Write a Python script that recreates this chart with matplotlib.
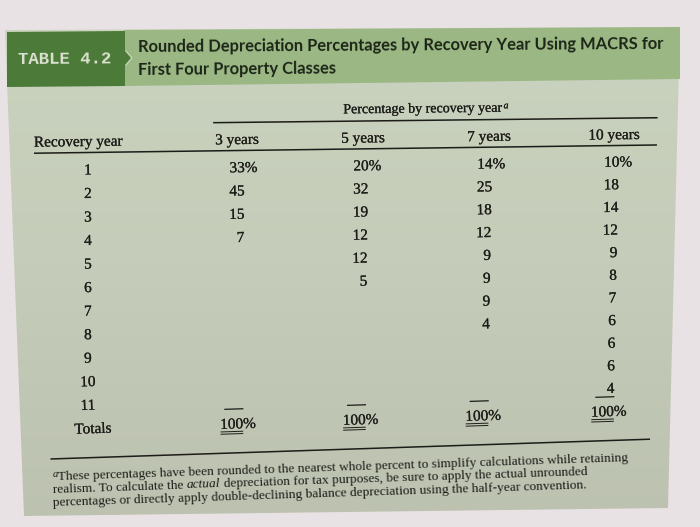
import math
import numpy as np
import matplotlib
matplotlib.use("Agg")
import matplotlib.pyplot as plt
import matplotlib.patheffects as pe
from matplotlib.patches import Polygon
from matplotlib.colors import LinearSegmentedColormap

# --- table content ---
table_no = "TABLE 4.2"
title_lines = ["Rounded Depreciation Percentages by Recovery Year Using MACRS for",
               "First Four Property Classes"]
group_header = "Percentage by recovery year"
row_header = "Recovery year"
class_labels = ["3 years", "5 years", "7 years", "10 years"]
recovery_years = [1, 2, 3, 4, 5, 6, 7, 8, 9, 10, 11]
pct_3yr = [33, 45, 15, 7]
pct_5yr = [20, 32, 19, 12, 12, 5]
pct_7yr = [14, 25, 18, 12, 9, 9, 9, 4]
pct_10yr = [10, 18, 14, 12, 9, 8, 7, 6, 6, 6, 4]
totals = [100, 100, 100, 100]
footnote = [
    [("a", "sup"), ("These percentages have been rounded to the nearest whole percent "
                    "to simplify calculations while retaining", "normal")],
    [("realism. To calculate the", "normal"), (" ", "space"), ("actual", "italic"), (" ", "space"),
     ("depreciation for tax purposes, be sure to apply the actual unrounded", "normal")],
    [("percentages or directly apply double-declining balance depreciation "
      "using the half-year convention.", "normal")],
]

ink = "#1c1d18"
serif = "Liberation Serif"

fig = plt.figure(figsize=(7, 5.27), dpi=100)
fig.patch.set_facecolor("#e9e2e4")
ax = fig.add_axes([0, 0, 1, 1])
ax.axis("off")
renderer = fig.canvas.get_renderer()


# the photo is slightly skewed: rows tilt up to the right, more towards the bottom
def slope(v):
    return min(0.013 + (v - 150) * 0.0000733, 0.033)


def squeeze(v):
    return 1 - 0.00004 * (v - 150)


def to_px(u, v):
    x = 90 + (u - 90) * squeeze(v)
    return x, v - slope(v) * (x - 50)


def put(u, v, s, ha="center", **kw):
    x, y = to_px(u, v)
    t = ax.text(x, y, s, ha=ha, va="baseline", rotation_mode="anchor", **kw)
    w = t.get_window_extent(renderer).width
    t.set_rotation(math.degrees(math.atan(slope(v))))
    return t, w


def text_width(s, **kw):
    t = ax.text(0, 0, s, **kw)
    w = t.get_window_extent(renderer).width
    t.remove()
    return w


def rule(u0, u1, v, lw=1.1):
    x0, y0 = to_px(u0, v)
    x1, y1 = to_px(u1, v)
    ax.plot([x0, x1], [y0, y1], color=ink, lw=lw, solid_capstyle="butt", zorder=3)


# --- page background ---
body = Polygon([(5, 30), (680, 27), (668, 508), (24, 516)], closed=True,
               facecolor="none", edgecolor="none")
ax.add_patch(body)
grad = np.linspace(0, 1, 200).reshape(-1, 1)
cmap = LinearSegmentedColormap.from_list("page", ["#cad4bf", "#c5ccb9", "#bcc1b0"])
img = ax.imshow(grad, extent=(0, 700, 527, 0), cmap=cmap, aspect="auto", zorder=0)
img.set_clip_path(body)

ax.add_patch(Polygon([(124, 30), (680, 27), (680, 79), (124, 86)], closed=True,
                     facecolor="#9bb884", edgecolor="none", zorder=1))
ax.add_patch(Polygon([(7, 32), (125, 31), (125, 51), (131, 58), (125, 65), (125, 86), (7, 87)],
                     closed=True, facecolor="#4c7a38", edgecolor="none", zorder=2))
ax.plot([126, 132, 126], [51, 58, 65], color="#c8d6b8", lw=0.8, zorder=2)

ax.set_xlim(0, 700)
ax.set_ylim(527, 0)

# --- heading ---
put(65, 64, table_no, family="Liberation Mono", weight="bold", fontsize=12.5,
    color="#dde2d2", zorder=4)
tsize = 12 * 524 / text_width(title_lines[0], family="Lato", weight="bold", fontsize=12)
put(138, 52.5, title_lines[0], ha="left", family="Lato", weight="bold", fontsize=tsize,
    color="#1d2618", zorder=4)
put(138, 75.5, title_lines[1], ha="left", family="Lato", weight="bold", fontsize=tsize,
    color="#1d2618", zorder=4)

# --- column heads ---
body_fs = 11
txt = dict(family=serif, color=ink, path_effects=[pe.withStroke(linewidth=0.15, foreground=ink)])
gsize = 11 * 159 / text_width(group_header, family=serif, fontsize=11)
_, gw = put(343, 116.5, group_header, ha="left", fontsize=gsize, **txt)
put(343 + gw + 1, 113, "a", ha="left", style="italic", fontsize=gsize * 0.7, **txt)
rule(213, 657, 124.5)

head_v = 146.5
put(34, head_v, row_header, ha="left", fontsize=body_fs, **txt)
col_centers = [237, 363, 489, 614]
col_rights = [245, 369, 493, 620]
for c, lab in zip(col_centers, class_labels):
    put(c, head_v, lab, fontsize=body_fs, **txt)
rule(34, 657, 153)

# --- body rows ---
row0, step = 175, 23.6
for i, yr in enumerate(recovery_years):
    put(88, row0 + step * i, str(yr), fontsize=body_fs, **txt)
tot_v = row0 + step * len(recovery_years)
put(93, tot_v, "Totals", fontsize=body_fs, **txt)

dash_w = text_width("00", family=serif, fontsize=body_fs) + 4
for r, vals, tot in zip(col_rights, [pct_3yr, pct_5yr, pct_7yr, pct_10yr], totals):
    for i, val in enumerate(vals):
        v = row0 + step * i
        put(r, v, str(val), ha="right", fontsize=body_fs, **txt)
        if i == 0:
            put(r, v, "%", ha="left", fontsize=body_fs, **txt)
    rule(r - dash_w, r, row0 + step * 10 + 4, lw=0.9)
    _, tw = put(r, tot_v, str(tot), ha="right", fontsize=body_fs, **txt)
    put(r, tot_v, "%", ha="left", fontsize=body_fs, **txt)
    rule(r - tw, r, tot_v + 3, lw=0.7)
    rule(r - tw, r, tot_v + 5.3, lw=0.7)

rule(50, 657, 459)

# --- footnote ---
note = dict(family=serif, color=ink)
line0 = "".join(p for p, _ in footnote[0][1:])
fsize = 9 * 572 / text_width(line0, family=serif, fontsize=9)
space_w = (text_width("n n", family=serif, fontsize=fsize)
           - text_width("nn", family=serif, fontsize=fsize))
for k, pieces in enumerate(footnote):
    v = 480 + 13 * k
    u = 52
    for s, kind in pieces:
        if kind == "space":
            u += space_w / squeeze(v)
            continue
        if kind == "sup":
            _, w = put(u, v - 3, s, ha="left", style="italic", fontsize=fsize * 0.8, **note)
            w += 0.5
        else:
            _, w = put(u, v, s, ha="left", fontsize=fsize,
                       style="italic" if kind == "italic" else "normal", **note)
        u += w / squeeze(v)

fig.savefig("out.png", dpi=100, facecolor=fig.get_facecolor())
